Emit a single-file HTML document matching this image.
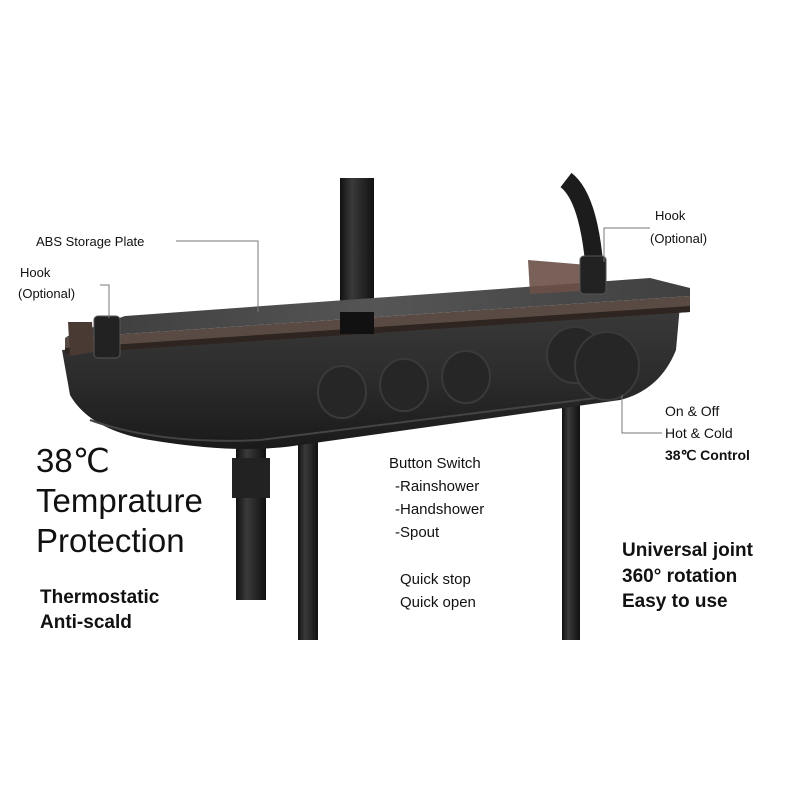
<!DOCTYPE html>
<html><head><meta charset="utf-8"><style>
body{margin:0;background:#fff}
svg{display:block}
text{font-family:"Liberation Sans",sans-serif;fill:#111}
</style></head><body>
<svg width="800" height="800" viewBox="0 0 800 800">
<defs>
<linearGradient id="pipe" x1="0" x2="1"><stop offset="0" stop-color="#111"/><stop offset=".35" stop-color="#3a3a3a"/><stop offset="1" stop-color="#111"/></linearGradient>
<linearGradient id="body" x1="0" y1="0" x2="0" y2="1"><stop offset="0" stop-color="#3a3a3a"/><stop offset=".5" stop-color="#2c2c2c"/><stop offset="1" stop-color="#1a1a1a"/></linearGradient>
<linearGradient id="top" x1="0" y1="0" x2="1" y2="0"><stop offset="0" stop-color="#3c3c3c"/><stop offset=".5" stop-color="#555"/><stop offset="1" stop-color="#404040"/></linearGradient>
</defs>
<path d="M566 180 Q592 200 596 290" stroke="#1c1c1c" stroke-width="18" fill="none"/>
<rect x="340" y="178" width="34" height="150" fill="url(#pipe)"/>
<rect x="298" y="440" width="20" height="200" fill="url(#pipe)"/>
<rect x="562" y="400" width="18" height="240" fill="url(#pipe)"/>
<rect x="236" y="440" width="30" height="160" fill="url(#pipe)"/>
<rect x="232" y="458" width="38" height="40" fill="#222"/>
<path d="M62 350 L680 305 L676 350 Q660 390 620 400 L300 445 Q240 455 150 440 Q90 430 70 395 Z" fill="url(#body)"/>
<path d="M90 420 Q160 445 260 440 L620 395" stroke="#444" stroke-width="2" fill="none"/>
<!-- plate band -->
<path d="M65 338 L690 296 L690 312 L65 354 Z" fill="#5a4a44"/>
<path d="M65 348 L690 306 L690 312 L65 354 Z" fill="#2e2420"/>
<!-- plate top -->
<path d="M68 336 L125 316 L650 278 L690 288 L690 296 L65 338 Z" fill="url(#top)"/>
<path d="M68 322 L92 322 L94 352 L70 356 Z" fill="#4a3a34"/>
<path d="M528 260 L600 266 L600 290 L530 294 Z" fill="#6a5048" opacity=".9"/>
<rect x="94" y="316" width="26" height="42" rx="4" fill="#222" stroke="#555"/>
<rect x="580" y="256" width="26" height="38" rx="4" fill="#222" stroke="#555"/>
<rect x="340" y="312" width="34" height="22" fill="#111"/>
<g fill="#262626" stroke="#3a3a3a" stroke-width="2">
<ellipse cx="342" cy="392" rx="24" ry="26"/>
<ellipse cx="404" cy="385" rx="24" ry="26"/>
<ellipse cx="466" cy="377" rx="24" ry="26"/>
<ellipse cx="575" cy="355" rx="28" ry="28"/>
<ellipse cx="607" cy="366" rx="32" ry="34"/>
</g>
<g stroke="#777" stroke-width="1" fill="none">
<polyline points="176,241 258,241 258,312"/>
<polyline points="100,285 109,285 109,318"/>
<polyline points="650,228 604,228 604,262"/>
<polyline points="622,395 622,433 662,433"/>
</g>
<text x="36" y="246" font-size="13">ABS Storage Plate</text>
<text x="20" y="277" font-size="13">Hook</text>
<text x="18" y="298" font-size="13">(Optional)</text>
<text x="655" y="220" font-size="13">Hook</text>
<text x="650" y="243" font-size="13">(Optional)</text>
<text x="665" y="416" font-size="14">On &amp; Off</text>
<text x="665" y="438" font-size="14">Hot &amp; Cold</text>
<text x="665" y="460" font-size="14" font-weight="bold">38℃ Control</text>
<text x="36" y="472" font-size="33">38℃</text>
<text x="36" y="512" font-size="33">Temprature</text>
<text x="36" y="552" font-size="33">Protection</text>
<text x="40" y="603" font-size="19" font-weight="bold">Thermostatic</text>
<text x="40" y="628" font-size="19" font-weight="bold">Anti-scald</text>
<text x="389" y="468" font-size="15">Button Switch</text>
<text x="395" y="491" font-size="15">-Rainshower</text>
<text x="395" y="514" font-size="15">-Handshower</text>
<text x="395" y="537" font-size="15">-Spout</text>
<text x="400" y="584" font-size="15">Quick stop</text>
<text x="400" y="607" font-size="15">Quick open</text>
<text x="622" y="556" font-size="19" font-weight="bold">Universal joint</text>
<text x="622" y="582" font-size="19" font-weight="bold">360° rotation</text>
<text x="622" y="607" font-size="19" font-weight="bold">Easy to use</text>
</svg>
</body></html>
